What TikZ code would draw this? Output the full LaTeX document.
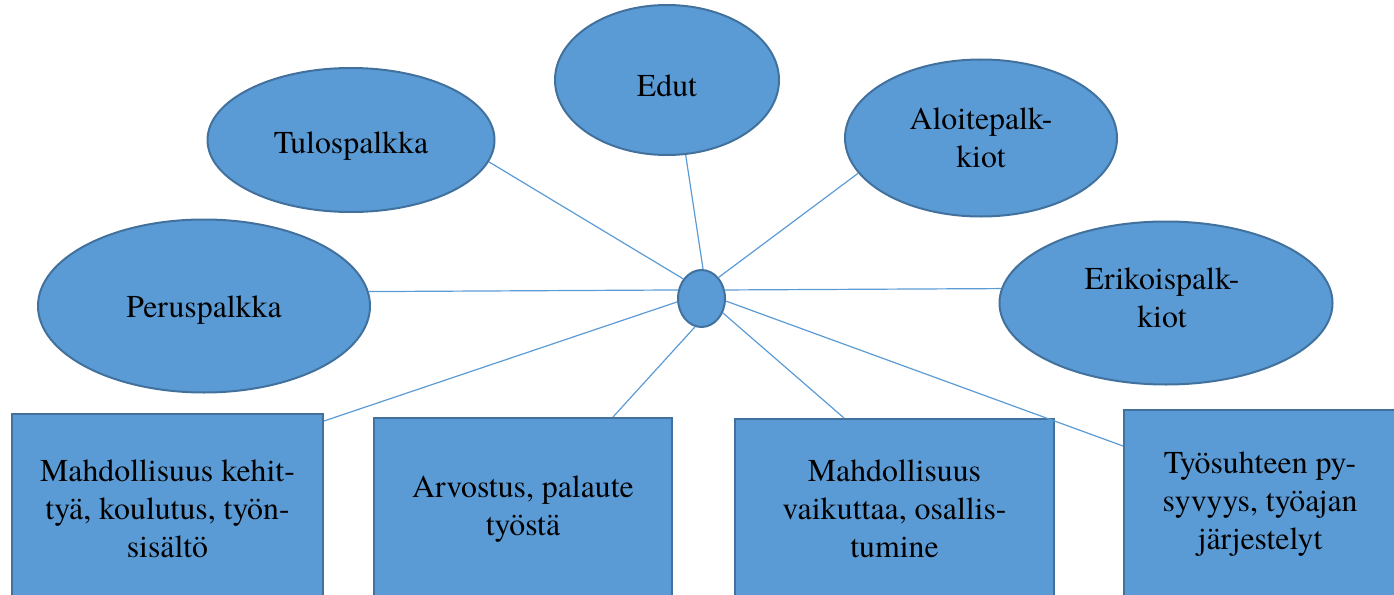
\documentclass[tikz,border=0pt]{standalone}
\usepackage{fontspec}
\setmainfont{texgyretermes-regular.otf}
\usetikzlibrary{shapes.geometric,calc}
\definecolor{fillb}{HTML}{5B9BD5}
\definecolor{edgeb}{HTML}{41719C}
\begin{document}
\begin{tikzpicture}[x=1pt,y=-1pt,
  shapebase/.style={fill=fillb,draw=edgeb,line width=2pt,inner sep=0pt,
    font=\fontsize{31.8}{38}\selectfont,align=center},
  oval/.style={shapebase,ellipse},
  card/.style={shapebase,rectangle,anchor=north west},
  link/.style={draw=fillb,line width=1.2pt}]
\useasboundingbox (0,0) rectangle (1394,594);
\clip (0,0) rectangle (1394,594);
\node[oval,minimum width=47,minimum height=57] (hub) at (701.5,298.5) {};
\node[oval,minimum width=224,minimum height=150,text height=33.7pt] (edut) at (667,80) {Edut};
\node[oval,minimum width=287,minimum height=144,text height=33.7pt] (tulo) at (351,140) {Tulospalkka};
\node[oval,minimum width=272,minimum height=157] (aloite) at (981,138) {Aloitepalk-\\kiot};
\node[oval,minimum width=332,minimum height=173,text height=29.7pt] (peru) at (204,306) {Peruspalkka};
\node[oval,minimum width=333,minimum height=163] (eriko) at (1166,303) {\raisebox{-4pt}[0pt][0pt]{\begin{tabular}{@{}c@{}}Erikoispalk-\\kiot\end{tabular}}\hspace*{8pt}};
\node[card,minimum width=311,minimum height=190] (b1) at (11,413) {Mahdollisuus kehit-\\tyä, koulutus, työn-\\sisältö};
\node[card,minimum width=298,minimum height=183] (b2) at (373,417) {Arvostus, palaute\\työstä};
\node[card,minimum width=319,minimum height=180] (b3) at (734,418) {Mahdollisuus\\vaikuttaa, osallis-\\tumine};
\node[card,minimum width=272,minimum height=188] (b4) at (1123,409) {Työsuhteen py-\\syvyys, työajan\\järjestelyt};
\draw[link] (hub.87) -- (edut.284);
\draw[link] (hub.133.5) -- (tulo.351);
\draw[link] (hub.51) -- (aloite.196.4);
\draw[link] (hub.160) -- (peru.5.6);
\draw[link] (hub.20) -- (eriko.175.5);
\draw[link] (hub.188) -- ($(b1.north east)+(0,8)$);
\draw[link] (hub.257) -- ($(b2.north)+(90,0)$);
\draw[link] (hub.326) -- ($(b3.north)+(-50.5,0)$);
\draw[link] (hub.354) -- ($(b4.north west)+(0,37)$);
\end{tikzpicture}
\end{document}
